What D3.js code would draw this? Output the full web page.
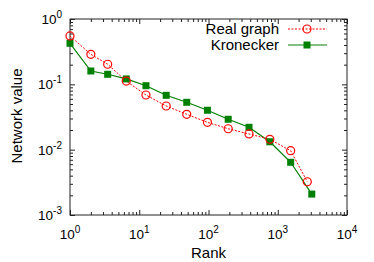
<!DOCTYPE html>
<html>
<head>
<meta charset="utf-8">
<script src="https://cdn.jsdelivr.net/npm/d3@7"></script>
<style>
  body { margin: 0; background: #fff; }
  text { font-family: "Liberation Sans", Arial, sans-serif; fill: #000; }
</style>
</head>
<body>
<svg id="chart" width="374" height="262"></svg>
<script>
// data
const realRank = [1, 2, 3.5, 6.5, 12.5, 24.5, 48.5, 96.5, 192.5, 384.5, 768.5, 1536.5, 2670];
const realValue = [0.55, 0.288, 0.203, 0.112, 0.0687, 0.0466, 0.0348, 0.0262, 0.0209, 0.0174, 0.0144, 0.00964, 0.00323];
const kronRank = [1, 2, 3.5, 6.5, 12.5, 24.5, 48.5, 96.5, 192.5, 384.5, 768.5, 1536.5, 3100];
const kronValue = [0.425, 0.16, 0.1425, 0.121, 0.0953, 0.0679, 0.0531, 0.0401, 0.0292, 0.022, 0.0132, 0.00641, 0.00209];
const xExponents = [0, 1, 2, 3, 4];
const yExponents = [-3, -2, -1, 0];
const seriesNames = ["Real graph", "Kronecker"];

const svg = d3.select("#chart");
const margin = { top: 19, right: 27, bottom: 47, left: 70 };
const width = +svg.attr("width") - margin.left - margin.right;
const height = +svg.attr("height") - margin.top - margin.bottom;

const x = d3.scaleLog().domain([1, 1e4]).range([margin.left, margin.left + width]);
const y = d3.scaleLog().domain([1e-3, 1]).range([margin.top + height, margin.top]);

const xMajor = xExponents.map(e => Math.pow(10, e));
const yMajor = yExponents.map(e => Math.pow(10, e));
const minorOf = majors => {
  const out = [];
  majors.slice(0, -1).forEach(m => { for (let k = 2; k <= 9; k++) out.push(m * k); });
  return out;
};
const xMinor = minorOf(xMajor);
const yMinor = minorOf(yMajor);

const tickColor = "#222";
function tickAxis(axis, values, size) {
  return axis.tickValues(values).tickSize(size).tickFormat("");
}
function styleAxis(g) {
  g.select(".domain").remove();
  g.selectAll("line").attr("stroke", tickColor);
}

// ticks pointing inward on all four sides
const bottomY = margin.top + height, topY = margin.top;
const leftX = margin.left, rightX = margin.left + width;
[[xMajor, 5], [xMinor, 3]].forEach(([vals, s]) => {
  svg.append("g").attr("transform", `translate(0,${bottomY})`)
    .call(tickAxis(d3.axisBottom(x), vals, -s)).call(styleAxis);
  svg.append("g").attr("transform", `translate(0,${topY})`)
    .call(tickAxis(d3.axisTop(x), vals, -s)).call(styleAxis);
});
[[yMajor, 5], [yMinor, 3]].forEach(([vals, s]) => {
  svg.append("g").attr("transform", `translate(${leftX},0)`)
    .call(tickAxis(d3.axisLeft(y), vals, -s)).call(styleAxis);
  svg.append("g").attr("transform", `translate(${rightX},0)`)
    .call(tickAxis(d3.axisRight(y), vals, -s)).call(styleAxis);
});

// frame
svg.append("rect")
  .attr("x", leftX).attr("y", topY)
  .attr("width", width).attr("height", height)
  .attr("fill", "none").attr("stroke", tickColor).attr("stroke-width", 1);

// tick labels with superscripts
xExponents.forEach(e => {
  const t = svg.append("text")
    .attr("x", x(Math.pow(10, e)))
    .attr("y", bottomY + 24)
    .attr("text-anchor", "middle")
    .attr("font-size", 13.5);
  t.append("tspan").text("10");
  t.append("tspan").attr("dy", -6).attr("font-size", 10).text(e);
});
yExponents.forEach(e => {
  const t = svg.append("text")
    .attr("x", leftX - 8)
    .attr("y", y(Math.pow(10, e)) + 5)
    .attr("text-anchor", "end")
    .attr("font-size", 13.5);
  t.append("tspan").text("10");
  t.append("tspan").attr("dy", -6).attr("font-size", 10).text(e);
});

// axis titles
svg.append("text")
  .attr("x", x(100))
  .attr("y", 258)
  .attr("text-anchor", "middle")
  .attr("font-size", 15)
  .text("Rank");
svg.append("text")
  .attr("transform", `translate(22,116) rotate(-90)`)
  .attr("text-anchor", "middle")
  .attr("font-size", 15)
  .text("Network value");

// lines
const line = d3.line().x(d => x(d[0])).y(d => y(d[1]));
const realPts = realRank.map((r, i) => [r, realValue[i]]);
const kronPts = kronRank.map((r, i) => [r, kronValue[i]]);

svg.append("path")
  .datum(kronPts)
  .attr("fill", "none")
  .attr("stroke", "#008000")
  .attr("stroke-width", 1.2)
  .attr("d", line);

svg.append("path")
  .datum(realPts)
  .attr("fill", "none")
  .attr("stroke", "#ff0000")
  .attr("stroke-width", 1)
  .attr("stroke-dasharray", "2,1.5")
  .attr("d", line);

function redMark(g, cx, cy) {
  g.append("circle")
    .attr("cx", cx).attr("cy", cy).attr("r", 4)
    .attr("fill", "none").attr("stroke", "#ff0000").attr("stroke-width", 1.2);
}
function greenMark(g, cx, cy) {
  g.append("rect")
    .attr("x", cx - 3.5).attr("y", cy - 3.5)
    .attr("width", 7).attr("height", 7)
    .attr("fill", "#008000");
}

const marks = svg.append("g");
kronPts.forEach(d => greenMark(marks, x(d[0]), y(d[1])));
realPts.forEach(d => redMark(marks, x(d[0]), y(d[1])));

// legend
const legend = svg.append("g");
seriesNames.forEach((name, i) => {
  const ly = 29 + i * 16;
  legend.append("text")
    .attr("x", 279).attr("y", ly + 5)
    .attr("text-anchor", "end")
    .attr("font-size", 15)
    .text(name);
  legend.append("line")
    .attr("x1", 288).attr("x2", 327).attr("y1", ly).attr("y2", ly)
    .attr("stroke", i === 0 ? "#ff0000" : "#008000")
    .attr("stroke-width", i === 0 ? 1 : 1.2)
    .attr("stroke-dasharray", i === 0 ? "2,1.5" : null);
  if (i === 0) redMark(legend, 307, ly); else greenMark(legend, 307, ly);
});
</script>
</body>
</html>
